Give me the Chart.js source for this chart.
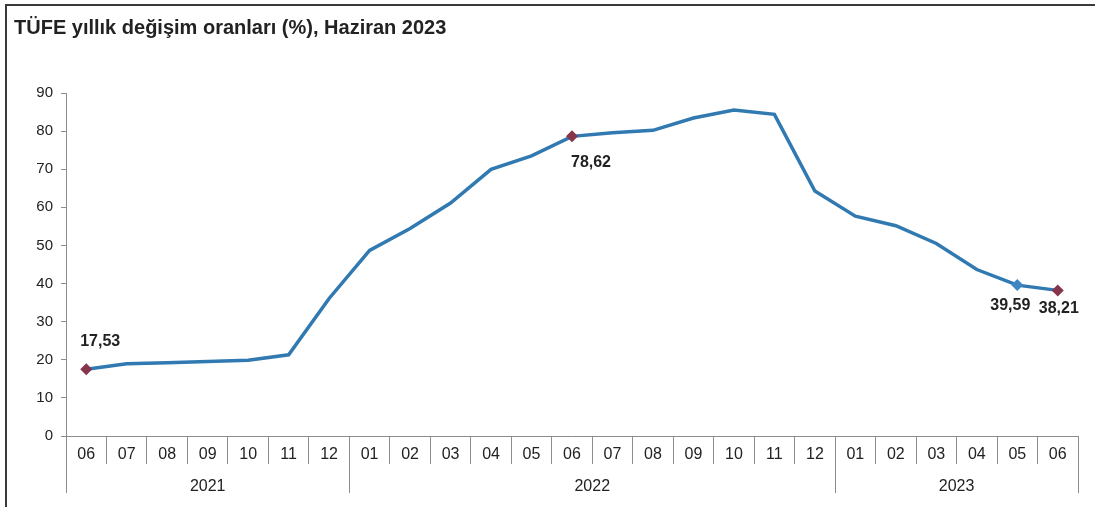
<!DOCTYPE html>
<html>
<head>
<meta charset="utf-8">
<script src="https://cdn.jsdelivr.net/npm/chart.js@4/dist/chart.umd.min.js"></script>
<style>
  html, body { margin: 0; padding: 0; background: #fff; }
  #wrap { position: relative; width: 1095px; height: 507px; }
  #frame { position: absolute; left: 5px; top: 4px; right: 0; bottom: 0; border-left: 2px solid #3a3a3a; border-top: 2px solid #3a3a3a; pointer-events: none; }
  canvas { position: absolute; left: 0; top: 0; }
</style>
</head>
<body>
<div id="wrap">
  <canvas id="c" width="1095" height="507"></canvas>
  <div id="frame"></div>
</div>
<script>
const titleText = 'TÜFE yıllık değişim oranları (%), Haziran 2023';
const months = ['06','07','08','09','10','11','12','01','02','03','04','05','06','07','08','09','10','11','12','01','02','03','04','05','06'];
const values = [17.53,18.95,19.25,19.58,19.89,21.31,36.08,48.69,54.44,61.14,69.97,73.50,78.62,79.60,80.21,83.45,85.51,84.39,64.27,57.68,55.18,50.51,43.68,39.59,38.21];
const years = ['2021','2022','2023'];
const yearStart = [0, 7, 19];
const yearEnd = [6, 18, 24];
const yTicks = [0,10,20,30,40,50,60,70,80,90];
const markedIdx = [0, 12, 23, 24];
const markerColors = {0:'#86354B', 12:'#86354B', 23:'#3F86C4', 24:'#86354B'};
const labelOffsets = {0:[14,-28], 12:[19,26], 23:[-7,20], 24:[1,18]};

const lineColor = '#3079B1';
const gridColor = '#8c8c8c';
const textColor = '#222';
const fontFam = '"Liberation Sans", Arial, sans-serif';

const yearBoundaries = [yearStart[0]-0.5].concat(yearEnd.map(e => e + 0.5));
const yearCenters = yearStart.map((s,i) => (s + yearEnd[i]) / 2);

const dataLabelPlugin = {
  id: 'dataLabels',
  afterDatasetsDraw(chart) {
    const meta = chart.getDatasetMeta(0);
    const ctx = chart.ctx;
    ctx.save();
    ctx.font = 'bold 16px ' + fontFam;
    ctx.fillStyle = textColor;
    ctx.textAlign = 'center';
    ctx.textBaseline = 'middle';
    markedIdx.forEach(i => {
      const p = meta.data[i];
      const o = labelOffsets[i];
      ctx.fillText(values[i].toFixed(2).replace('.', ','), p.x + o[0], p.y + o[1]);
    });
    ctx.restore();
  }
};

new Chart(document.getElementById('c'), {
  type: 'line',
  data: {
    labels: months,
    datasets: [{
      data: values,
      borderColor: lineColor,
      borderWidth: 3.5,
      tension: 0,
      pointStyle: 'rectRot',
      pointRadius: values.map((v,i) => markedIdx.includes(i) ? 6 : 0),
      pointBackgroundColor: values.map((v,i) => markerColors[i] || lineColor),
      pointBorderColor: values.map((v,i) => markerColors[i] || lineColor),
      pointBorderWidth: 0,
      xAxisID: 'x',
      yAxisID: 'y'
    }]
  },
  options: {
    responsive: false,
    animation: false,
    devicePixelRatio: 1,
    layout: { padding: { left: 14, right: 17, top: 0, bottom: 14 } },
    plugins: {
      legend: { display: false },
      tooltip: { enabled: false },
      title: {
        display: true,
        text: titleText,
        align: 'start',
        color: textColor,
        font: { family: fontFam, size: 20, weight: 'bold' },
        padding: { top: 16, bottom: 53 }
      }
    },
    scales: {
      y: {
        min: 0, max: 90,
        afterBuildTicks(s) { s.ticks = yTicks.map(v => ({ value: v })); },
        afterFit(s) { s.width = 52; },
        border: { color: gridColor, width: 1 },
        grid: { drawOnChartArea: false, color: gridColor, tickLength: 5 },
        ticks: { color: textColor, padding: 8, font: { family: fontFam, size: 15 } }
      },
      x: {
        type: 'category',
        position: 'bottom',
        weight: 1,
        offset: true,
        afterFit(s) { s.height = 28; },
        border: { color: gridColor, width: 1 },
        grid: { offset: true, drawOnChartArea: false, color: gridColor, tickLength: 28 },
        ticks: { color: textColor, padding: -19, autoSkip: false, maxRotation: 0, font: { family: fontFam, size: 16 } }
      },
      x2: {
        type: 'linear',
        position: 'bottom',
        weight: 2,
        min: -0.5, max: months.length - 0.5,
        afterBuildTicks(s) {
          const t = yearBoundaries.concat(yearCenters).sort((a,b)=>a-b);
          s.ticks = t.map(v => ({ value: v }));
        },
        afterFit(s) { s.height = 29; },
        border: { display: false },
        grid: {
          drawOnChartArea: false,
          tickLength: 29,
          color: ctx => (ctx.tick && yearBoundaries.includes(ctx.tick.value)) ? gridColor : 'rgba(0,0,0,0)'
        },
        ticks: {
          color: textColor, padding: -16, autoSkip: false, maxRotation: 0,
          font: { family: fontFam, size: 16 },
          callback: (v) => { const k = yearCenters.indexOf(v); return k >= 0 ? years[k] : ''; }
        }
      }
    }
  },
  plugins: [dataLabelPlugin]
});
</script>
</body>
</html>
